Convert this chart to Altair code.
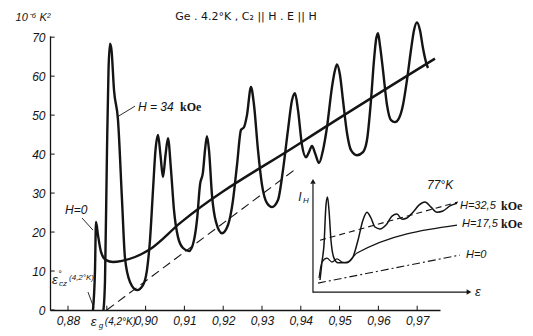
import altair as alt
import pandas as pd

# ---------------- axes ----------------
x_domain = [0.87536, 0.97588]
y_domain = [0, 70.3]
x_ticks = [0.88, 0.89, 0.90, 0.91, 0.92, 0.93, 0.94, 0.95, 0.96, 0.97]
y_ticks = [0, 10, 20, 30, 40, 50, 60, 70]

# ---------------- main curve, H = 34 kOe ----------------
h34_e = [0.88915, 0.88954, 0.89005, 0.89044, 0.89082, 0.89121, 0.89186, 0.89289, 0.89392, 0.89469,
         0.89598, 0.89778, 0.89933, 0.90036, 0.90113, 0.90191, 0.90255, 0.90320, 0.90384, 0.90448,
         0.90513, 0.90577, 0.90655, 0.90732, 0.90835, 0.90964, 0.91119, 0.91247, 0.91325, 0.91402,
         0.91479, 0.91531, 0.91582, 0.91634, 0.91711, 0.91814, 0.91969, 0.92124, 0.92253, 0.92356,
         0.92459, 0.92536, 0.92613, 0.92716, 0.92794, 0.92897, 0.93000, 0.93129, 0.93258, 0.93412,
         0.93541, 0.93670, 0.93773, 0.93851, 0.93928, 0.94031, 0.94134, 0.94211, 0.94289, 0.94366,
         0.94469, 0.94572, 0.94675, 0.94804, 0.94881, 0.94933, 0.95010, 0.95088, 0.95191, 0.95294,
         0.95448, 0.95603, 0.95706, 0.95809, 0.95887, 0.95938, 0.95990, 0.96041, 0.96119, 0.96222,
         0.96325, 0.96428, 0.96531, 0.96634, 0.96737, 0.96840, 0.96918, 0.96995, 0.97072, 0.97149,
         0.97227, 0.97278]
h34_v = [0.0, 7.7, 41.0, 61.5, 68.3, 66.7, 56.4, 48.7, 28.2, 13.3,
         7.2, 5.1, 6.4, 10.3, 17.9, 30.8, 41.0, 44.9, 39.7, 34.1,
         39.7, 44.1, 35.9, 25.6, 18.7, 15.9, 15.1, 17.9, 23.1, 32.1,
         35.4, 41.0, 44.6, 41.0, 29.5, 22.6, 19.7, 21.8, 28.2, 37.2,
         46.2, 46.9, 50.0, 57.2, 52.6, 41.0, 32.1, 27.4, 26.4, 28.2,
         35.9, 46.2, 53.8, 55.6, 51.3, 42.3, 39.2, 40.5, 42.1, 40.3,
         37.7, 41.0, 46.9, 57.2, 61.5, 63.0, 60.3, 53.8, 45.4, 41.0,
         39.7, 40.5, 43.6, 53.8, 64.1, 69.2, 71.0, 67.9, 61.5, 52.6,
         48.7, 48.2, 49.2, 52.6, 59.0, 66.7, 71.8, 73.8, 71.8, 67.2,
         63.6, 62.1]

# ---------------- H = 0 curve (thick smooth) ----------------
h0_e = [0.88644, 0.88696, 0.88722, 0.88773, 0.88851, 0.88979, 0.89160, 0.89392, 0.89727, 0.90113,
        0.90887, 0.93979, 0.97459]
h0_v = [0.0, 10.3, 22.6, 19.2, 14.9, 12.8, 12.3, 12.6, 13.6, 15.6,
        22.3, 42.8, 64.5]

# ---------------- dashed line ----------------
dash_e = [0.8900, 0.9390]
dash_v = [0.0, 36.4]

# ---------------- inset (77 K) ----------------
in_axis_x_e = [0.94314, 0.98284]
in_axis_x_v = [4.6, 4.6]
in_axis_y_e = [0.94314, 0.94314]
in_axis_y_v = [4.4, 32.4]

in325_e = [0.94495, 0.94546, 0.94598, 0.94649, 0.94688, 0.94727, 0.94778, 0.94856, 0.94959, 0.95088,
           0.95216, 0.95345, 0.95474, 0.95603, 0.95706, 0.95809, 0.95912, 0.96041, 0.96196, 0.96351,
           0.96479, 0.96608, 0.96737, 0.96892, 0.97046, 0.97201, 0.97356, 0.97510, 0.97665, 0.97845,
           0.98026]
in325_v = [7.7, 12.3, 16.7, 26.9, 29.0, 25.6, 17.9, 13.3, 12.1, 12.1,
           12.3, 13.6, 17.9, 23.1, 25.1, 23.6, 21.3, 20.8, 21.8, 24.1,
           24.6, 23.3, 23.6, 25.1, 26.9, 27.7, 26.4, 25.1, 25.4, 26.7,
           27.4]
in325_dash_e = [0.94495, 0.98052]
in325_dash_v = [17.9, 27.7]

in175_e = [0.94469, 0.94546, 0.94675, 0.94804, 0.94933, 0.95062, 0.95191, 0.95320, 0.95448, 0.98026]
in175_v = [8.2, 12.3, 13.3, 12.3, 13.1, 12.3, 12.1, 13.3, 14.6, 21.8]

in0_e = [0.94443, 0.98103]
in0_v = [6.9, 14.1]

BLACK = "#141414"
FONT = "Liberation Sans"


def df(e, v):
    return pd.DataFrame({"e": e, "v": v})


X = alt.X("e:Q", scale=alt.Scale(domain=x_domain, nice=False, zero=False),
          axis=alt.Axis(values=x_ticks, title=None, grid=False, ticks=False,
                        domainColor=BLACK, domainWidth=1.3, labelOverlap=False,
                        labelExpr="abs(datum.value-0.89)<0.001 ? '' : replace(format(datum.value, '.2f'), '.', ',')",
                        labelFont=FONT, labelFontStyle="italic", labelFontSize=12,
                        labelColor=BLACK, labelPadding=5, labelFlush=False))
Y = alt.Y("v:Q", scale=alt.Scale(domain=y_domain, nice=False, zero=False),
          axis=alt.Axis(values=y_ticks, title=None, grid=False, ticks=False,
                        domainColor=BLACK, domainWidth=1.3, labelOverlap=False,
                        labelFont=FONT, labelFontStyle="italic", labelFontSize=12,
                        labelColor=BLACK, labelPadding=5, labelFlush=False))


def line(e, v, width=2.4, dash=None, interp="monotone"):
    kw = dict(color=BLACK, strokeWidth=width, interpolate=interp, clip=False)
    if dash:
        kw["strokeDash"] = dash
    return alt.Chart(df(e, v)).mark_line(**kw).encode(x=X, y=Y, order="e:Q")


def text(e, v, t, size=12, style="italic", weight="normal", font=FONT, align="left",
         baseline="middle", dx=0, dy=0):
    return alt.Chart(pd.DataFrame({"e": [e], "v": [v], "t": [t]})).mark_text(
        fontSize=size, fontStyle=style, fontWeight=weight, font=font, align=align,
        baseline=baseline, dx=dx, dy=dy, color=BLACK).encode(x=X, y=Y, text="t:N")


# inward tick marks
xt = pd.DataFrame({"e": x_ticks, "v": [0] * len(x_ticks), "v1": [1.1] * len(x_ticks)})
x_tick_rules = alt.Chart(xt).mark_rule(color=BLACK, strokeWidth=1).encode(
    x=X, y=Y, y2="v1:Q")
yt = pd.DataFrame({"v": y_ticks, "e": [x_domain[0]] * len(y_ticks),
                   "e1": [x_domain[0] + 0.0012] * len(y_ticks)})
y_tick_rules = alt.Chart(yt).mark_rule(color=BLACK, strokeWidth=1).encode(
    y=Y, x=X, x2="e1:Q")


def arrow(e, v, shape):
    return alt.Chart(df([e], [v])).mark_point(shape=shape, filled=True, size=30,
                                              color=BLACK, opacity=1).encode(x=X, y=Y)


layers = [
    line(h34_e, h34_v, 2.4),
    x_tick_rules,
    y_tick_rules,
    line(h0_e, h0_v, 2.4),
    line(dash_e, dash_v, 1.1, dash=[9, 5], interp="linear"),
    # leader lines
    line([0.89263, 0.89727], [49.5, 52.3], 0.9, interp="linear"),
    line([0.88361, 0.88644], [23.6, 20.5], 0.9, interp="linear"),
    line([0.88515, 0.88670], [4.6, 0.5], 0.9, interp="linear"),
    # inset
    line(in_axis_x_e, in_axis_x_v, 1.2, interp="linear"),
    line(in_axis_y_e, in_axis_y_v, 1.2, interp="linear"),
    arrow(0.94314, 33.0, "triangle-up"),
    arrow(0.98335, 4.6, "triangle-right"),
    line(in325_e, in325_v, 1.5),
    line(in325_dash_e, in325_dash_v, 1.1, dash=[6, 4], interp="linear"),
    line(in175_e, in175_v, 1.2),
    line(in0_e, in0_v, 1.1, dash=[8, 3, 2, 3], interp="linear"),
    # texts
    text(0.92588, 75.1, "Ge . 4.2°K ,  C₂ || H . E || H", size=11, style="normal", font="DejaVu Sans",
         align="center"),
    text(0.87098, 75.0, "10⁻⁶ K²", size=11, align="center"),
    text(0.89804, 52.1, "H = 34", size=12),
    text(0.89804, 52.1, "kOe", size=12, style="normal", weight="bold", font="Liberation Serif", dx=42),
    text(0.87923, 25.6, "H=0", size=12),
    text(0.87588, 7.7, "ε", size=13),
    text(0.87588, 7.7, "°", size=9, dx=6, dy=-6),
    text(0.87588, 7.7, "cz", size=8, dx=7, dy=4),
    text(0.87588, 7.7, "(4,2°K)", size=8, dx=17, dy=-2),
    text(0.89000, -3.1, "ε", size=13, dx=-16),
    text(0.89000, -3.1, "g", size=8, dx=-8, dy=4),
    text(0.89000, -3.1, "(4,2°K)", size=10, dx=-2),
    text(0.93979, 29.0, "I", size=12, align="center"),
    text(0.93979, 29.0, "H", size=8, dx=3, dy=4),
    text(0.98490, 4.6, "ε", size=13),
    text(0.97253, 32.1, "77°K", size=12),
    text(0.98103, 26.7, "H=32,5", size=11),
    text(0.98103, 26.7, "kOe", size=12, style="normal", weight="bold", font="Liberation Serif", dx=41),
    text(0.98155, 22.1, "H=17,5", size=11),
    text(0.98155, 22.1, "kOe", size=12, style="normal", weight="bold", font="Liberation Serif", dx=39),
    text(0.98258, 14.1, "H=0", size=11),
]

chart = alt.layer(*layers).properties(
    width=390, height=274,
    padding={"left": 42, "top": 28, "right": 85, "bottom": 26},
    autosize=alt.AutoSizeParams(type="none"),
    background="white",
).configure_view(stroke=None)

chart.save("out.html", embed_options={"renderer": "svg", "actions": False})
